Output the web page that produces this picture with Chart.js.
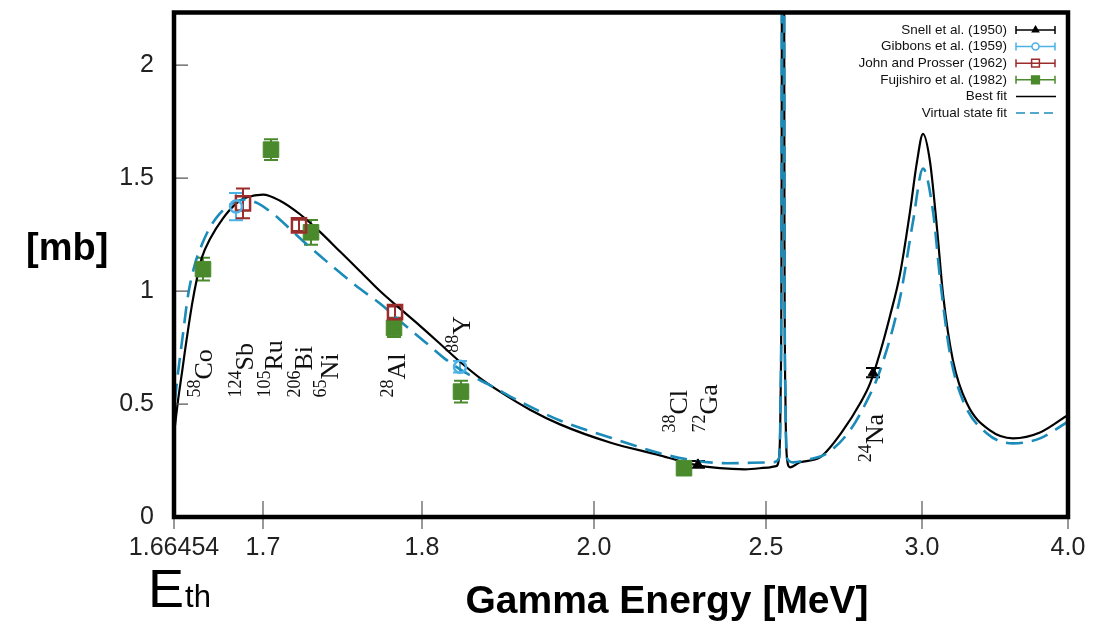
<!DOCTYPE html>
<html>
<head>
<meta charset="utf-8">
<script src="https://cdn.jsdelivr.net/npm/chart.js@4"></script>
<style>
  html, body { margin: 0; padding: 0; background: #fff; }
</style>
</head>
<body>
<canvas id="c" width="1110" height="621"></canvas>
<script>
// x axis ticks (the axis is stretched piecewise between them)
const tickValues = [1.66454, 1.7, 1.8, 2.0, 2.5, 3.0, 4.0];
const tickLabels = ['1.66454', '1.7', '1.8', '2.0', '2.5', '3.0', '4.0'];
const yTickValues = [0, 0.5, 1, 1.5, 2];
const yTickLabels = ['0', '0.5', '1', '1.5', '2'];

// fits
const bestFitE = [1.66494, 1.66613, 1.66773, 1.66892, 1.67171, 1.67370, 1.67570, 1.67888, 1.68406, 1.68964, 1.69363, 1.70000,
  1.71069, 1.72327, 1.73585, 1.74843, 1.76101, 1.77358, 1.78616, 1.79874, 1.82093, 1.84419, 1.86744, 1.89070, 1.92558, 1.96047,
  2.04651, 2.19186, 2.28779, 2.36628, 2.43896, 2.51282, 2.53205, 2.54167, 2.54647, 2.54968, 2.55449, 2.55929, 2.56250, 2.56731,
  2.57692, 2.60897, 2.67308, 2.74679, 2.80128, 2.83333, 2.86538, 2.89744, 2.92949, 2.96154, 2.98397, 3.00685, 3.05479, 3.10274,
  3.14384, 3.21233, 3.30822, 3.46575, 3.62329, 3.80822, 4.0];
const bestFitXS = [0.405, 0.515, 0.640, 0.736, 0.940, 1.057, 1.150, 1.230, 1.322, 1.390, 1.415, 1.427,
  1.400, 1.340, 1.262, 1.175, 1.088, 1.000, 0.922, 0.846, 0.767, 0.687, 0.615, 0.555, 0.475, 0.410,
  0.330, 0.273, 0.233, 0.216, 0.211, 0.220, 0.225, 0.26, 0.5, 1.2, 6.0, 1.2, 0.5, 0.26,
  0.220, 0.242, 0.264, 0.383, 0.502, 0.590, 0.727, 0.890, 1.075, 1.352, 1.573, 1.696, 1.573, 1.278,
  0.987, 0.692, 0.502, 0.383, 0.348, 0.374, 0.452];

const virtualE = [1.66494, 1.66574, 1.66813, 1.67012, 1.67291, 1.67570, 1.67888, 1.68287, 1.68805, 1.69283, 1.69801, 1.70755,
  1.71698, 1.72956, 1.74528, 1.76101, 1.77358, 1.78742, 1.80349, 1.82674, 1.85000, 1.87907, 1.91395, 1.96047, 2.04651, 2.19186,
  2.28779, 2.38663, 2.52244, 2.54167, 2.54647, 2.54968, 2.55449, 2.55929, 2.56250, 2.56731, 2.58654, 2.64103, 2.69551, 2.76923,
  2.82372, 2.86538, 2.92949, 2.97115, 3.00685, 3.07534, 3.12329, 3.19178, 3.28082, 3.44521, 3.62329, 3.80822, 4.0];
const virtualXS = [0.515, 0.600, 0.811, 0.980, 1.120, 1.207, 1.282, 1.344, 1.390, 1.405, 1.388, 1.335,
  1.275, 1.194, 1.100, 1.010, 0.945, 0.860, 0.775, 0.700, 0.640, 0.583, 0.511, 0.427, 0.352, 0.282,
  0.251, 0.238, 0.242, 0.26, 0.5, 1.2, 6.0, 1.2, 0.5, 0.26, 0.242, 0.256, 0.282, 0.383,
  0.515, 0.648, 0.969, 1.308, 1.542, 1.352, 1.057, 0.722, 0.515, 0.370, 0.326, 0.348, 0.422];

// measurements
const snellE = [2.30233, 2.84295];
const snellXS = [0.233, 0.639];
const snellErr = [0.015, 0.02];
const gibbonsE = [1.68924, 1.84419];
const gibbonsXS = [1.374, 0.665];
const gibbonsErr = [0.06, 0.025];
const johnE = [1.69203, 1.72264, 1.78303];
const johnXS = [1.388, 1.291, 0.907];
const johnErr = [0.066, 0.025, 0.025];
const fujiE = [1.67609, 1.70503, 1.73019, 1.78240, 1.84535, 2.26163];
const fujiXS = [1.097, 1.626, 1.260, 0.837, 0.555, 0.216];
const fujiErr = [0.05, 0.046, 0.055, 0.04, 0.048, 0];

// gamma source labels
const isoMass = ['58', '124', '105', '206', '65', '28', '88', '38', '72', '24'];
const isoElem = ['Co', 'Sb', 'Ru', 'Bi', 'Ni', 'Al', 'Y', 'Cl', 'Ga', 'Na'];
const isoE = [1.67968, 1.69601, 1.71195, 1.73082, 1.74718, 1.78932, 1.85581, 2.27035, 2.35756, 2.87499];
const isoXS = [0.529, 0.529, 0.529, 0.529, 0.529, 0.529, 0.727, 0.374, 0.374, 0.242];

// where each tick sits along the axis (fraction of its length)
const segStops = [0, 89, 248, 420, 592, 748, 894].map(p => p / 894);

function toDecimal(v) {
  let i = 0;
  while (i < tickValues.length - 2 && v > tickValues[i + 1]) i++;
  const t = (v - tickValues[i]) / (tickValues[i + 1] - tickValues[i]);
  return segStops[i] + t * (segStops[i + 1] - segStops[i]);
}
function fromDecimal(d) {
  let i = 0;
  while (i < segStops.length - 2 && d > segStops[i + 1]) i++;
  const t = (d - segStops[i]) / (segStops[i + 1] - segStops[i]);
  return tickValues[i] + t * (tickValues[i + 1] - tickValues[i]);
}

class SegmentScale extends Chart.LinearScale {
  getPixelForValue(value) { return this.getPixelForDecimal(toDecimal(value)); }
  getValueForPixel(pixel) { return fromDecimal(this.getDecimalForPixel(pixel)); }
}
SegmentScale.id = 'segment';
SegmentScale.defaults = Chart.LinearScale.defaults;
Chart.register(SegmentScale);

const SANS = '"Liberation Sans", Arial, Helvetica, sans-serif';
const SERIF = '"Liberation Serif", "Times New Roman", serif';
const C_GIB = '#4cb2e6', C_JOHN = '#9b2c2c', C_FUJI = '#4a8a2c', C_VIRT = '#1b8cba';

const pts = (xs, ys) => xs.map((x, i) => ({ x: x, y: ys[i] }));

const errBars = {
  id: 'errBars',
  beforeDatasetsDraw(chart) {
    const ctx = chart.ctx, ys = chart.scales.y;
    ctx.save();
    chart.data.datasets.forEach((ds, i) => {
      if (!ds.err) return;
      const meta = chart.getDatasetMeta(i);
      ctx.strokeStyle = ds.borderColor;
      ctx.lineWidth = 2;
      meta.data.forEach((p, j) => {
        const e = ds.err[j];
        if (!e) return;
        const v = ds.data[j].y;
        const y1 = ys.getPixelForValue(v + e), y2 = ys.getPixelForValue(v - e);
        ctx.beginPath();
        ctx.moveTo(p.x, y1); ctx.lineTo(p.x, y2);
        ctx.moveTo(p.x - 7, y1); ctx.lineTo(p.x + 7, y1);
        ctx.moveTo(p.x - 7, y2); ctx.lineTo(p.x + 7, y2);
        ctx.stroke();
      });
    });
    ctx.restore();
  }
};

const legendRows = [
  { label: 'Snell et al. (1950)', color: '#000', style: 'triangle', r: 3.5, fill: '#000' },
  { label: 'Gibbons et al. (1959)', color: C_GIB, style: 'circle', r: 3.5, fill: '#fff' },
  { label: 'John and Prosser (1962)', color: C_JOHN, style: 'rect', r: 5.5, fill: 'rgba(0,0,0,0)' },
  { label: 'Fujishiro et al. (1982)', color: C_FUJI, style: 'rect', r: 5.5, fill: C_FUJI },
  { label: 'Best fit', color: '#000', line: [] },
  { label: 'Virtual state fit', color: C_VIRT, line: [9, 5] }
];

const decor = {
  id: 'decor',
  afterDraw(chart) {
    const ctx = chart.ctx, a = chart.chartArea;
    const xs = chart.scales.x, ys = chart.scales.y;
    ctx.save();

    // tick marks
    ctx.strokeStyle = '#555';
    ctx.lineWidth = 1.2;
    ctx.beginPath();
    tickValues.forEach(v => {
      const x = xs.getPixelForValue(v);
      ctx.moveTo(x, a.bottom - 16); ctx.lineTo(x, a.bottom + 12);
    });
    yTickValues.forEach(v => {
      const y = ys.getPixelForValue(v);
      ctx.moveTo(a.left, y); ctx.lineTo(a.left + 14, y);
    });
    ctx.stroke();

    // isotope labels
    ctx.fillStyle = '#111';
    isoMass.forEach((m, i) => {
      const px = xs.getPixelForValue(isoE[i]), py = ys.getPixelForValue(isoXS[i]);
      ctx.save();
      ctx.translate(px, py);
      ctx.rotate(-Math.PI / 2);
      ctx.textAlign = 'left';
      ctx.textBaseline = 'alphabetic';
      ctx.font = '18px ' + SERIF;
      ctx.fillText(m, 0, -12);
      const w = ctx.measureText(m).width;
      ctx.font = '26px ' + SERIF;
      ctx.fillText(isoElem[i], w, 0);
      ctx.restore();
    });

    // frame
    ctx.strokeStyle = '#000';
    ctx.lineWidth = 4.5;
    ctx.strokeRect(a.left, a.top, a.right - a.left, a.bottom - a.top);

    // legend
    ctx.font = '13.5px ' + SANS;
    ctx.textAlign = 'right';
    ctx.textBaseline = 'middle';
    legendRows.forEach((row, i) => {
      const y = 30 + i * 16.6;
      ctx.fillStyle = '#111';
      ctx.fillText(row.label, 1007, y);
      ctx.strokeStyle = row.color;
      ctx.lineWidth = 1.5;
      ctx.beginPath();
      if (row.line) {
        ctx.setLineDash(row.line);
        ctx.moveTo(1016, y); ctx.lineTo(1056, y);
        ctx.stroke();
        ctx.setLineDash([]);
      } else {
        ctx.moveTo(1016, y); ctx.lineTo(1055, y);
        ctx.moveTo(1016, y - 4); ctx.lineTo(1016, y + 4);
        ctx.moveTo(1055, y - 4); ctx.lineTo(1055, y + 4);
        ctx.stroke();
        ctx.fillStyle = row.fill;
        ctx.lineWidth = 1.5;
        Chart.helpers.drawPoint(ctx, { pointStyle: row.style, radius: row.r, rotation: 0, borderWidth: 1.5 }, 1035.5, y);
      }
    });

    // axis titles
    ctx.fillStyle = '#000';
    ctx.textAlign = 'left';
    ctx.textBaseline = 'middle';
    ctx.font = 'bold 38px ' + SANS;
    ctx.fillText('[mb]', 26, 250);
    ctx.font = 'bold 39px ' + SANS;
    ctx.textAlign = 'center';
    ctx.textBaseline = 'alphabetic';
    ctx.fillText('Gamma Energy [MeV]', 667, 613);
    ctx.textAlign = 'left';
    ctx.font = '54px ' + SANS;
    ctx.fillText('E', 148, 607);
    const ew = ctx.measureText('E').width;
    ctx.font = '31px ' + SANS;
    ctx.fillText('th', 148 + ew + 1, 607);

    ctx.restore();
  }
};

new Chart(document.getElementById('c'), {
  type: 'scatter',
  data: {
    datasets: [
      { label: 'Snell et al. (1950)', data: pts(snellE, snellXS), err: snellErr,
        pointStyle: 'triangle', pointRadius: 5.5, backgroundColor: '#000', borderColor: '#000', borderWidth: 1 },
      { label: 'Gibbons et al. (1959)', data: pts(gibbonsE, gibbonsXS), err: gibbonsErr,
        pointStyle: 'circle', pointRadius: 6, backgroundColor: 'rgba(0,0,0,0)', borderColor: C_GIB, borderWidth: 2.5 },
      { label: 'John and Prosser (1962)', data: pts(johnE, johnXS), err: johnErr,
        pointStyle: 'rect', pointRadius: 10, backgroundColor: 'rgba(0,0,0,0)', borderColor: C_JOHN, borderWidth: 2.5 },
      { label: 'Fujishiro et al. (1982)', data: pts(fujiE, fujiXS), err: fujiErr,
        pointStyle: 'rect', pointRadius: 11, backgroundColor: C_FUJI, borderColor: C_FUJI, borderWidth: 1 },
      { label: 'Virtual state fit', type: 'line', data: pts(virtualE, virtualXS),
        borderColor: C_VIRT, borderWidth: 2.6, borderDash: [17, 9], pointRadius: 0, fill: false,
        cubicInterpolationMode: 'monotone' },
      { label: 'Best fit', type: 'line', data: pts(bestFitE, bestFitXS),
        borderColor: '#000', borderWidth: 2.2, pointRadius: 0, fill: false,
        cubicInterpolationMode: 'monotone' }
    ]
  },
  options: {
    responsive: false,
    animation: false,
    events: [],
    layout: { padding: { top: 10, right: 42, bottom: 0, left: 0 } },
    plugins: { legend: { display: false }, tooltip: { enabled: false } },
    scales: {
      x: {
        type: 'segment',
        min: tickValues[0],
        max: tickValues[tickValues.length - 1],
        bounds: 'data',
        grid: { display: false, drawTicks: false },
        border: { display: false },
        afterBuildTicks: s => { s.ticks = tickValues.map(v => ({ value: v })); },
        afterFit: s => { s.height = 104; s.paddingLeft = 0; s.paddingRight = 0; s.paddingTop = 0; s.paddingBottom = 0; },
        ticks: {
          autoSkip: false, maxRotation: 0, padding: 16, color: '#222',
          font: { family: SANS, size: 25 },
          callback: (v, i) => tickLabels[i]
        }
      },
      y: {
        type: 'linear',
        min: 0,
        max: 2.233,
        bounds: 'data',
        grid: { display: false, drawTicks: false },
        border: { display: false },
        afterBuildTicks: s => { s.ticks = yTickValues.map(v => ({ value: v })); },
        afterFit: s => { s.width = 174; s.paddingTop = 0; s.paddingBottom = 0; s.paddingLeft = 0; s.paddingRight = 0; },
        ticks: {
          padding: 20, color: '#222',
          font: { family: SANS, size: 25 },
          callback: (v, i) => yTickLabels[i]
        }
      }
    }
  },
  plugins: [errBars, decor]
});
</script>
</body>
</html>
